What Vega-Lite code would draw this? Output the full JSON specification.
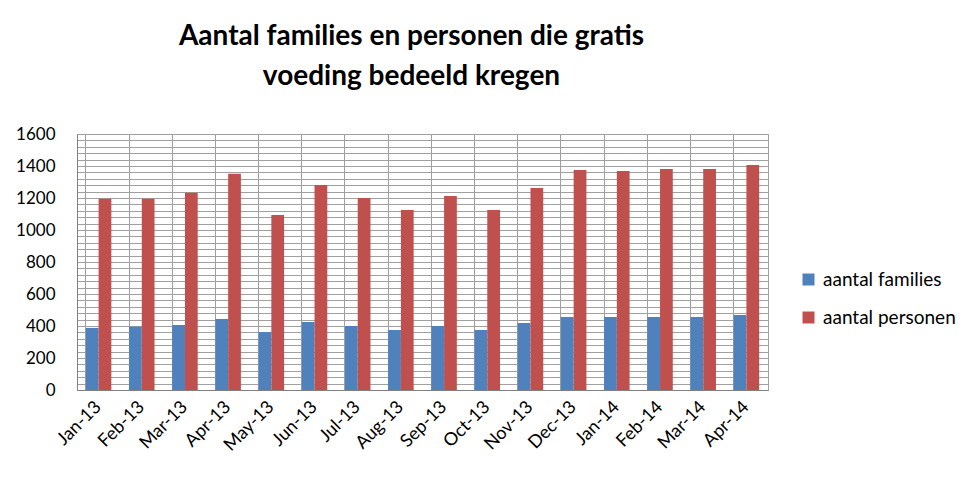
{
  "$schema": "https://vega.github.io/schema/vega-lite/v6.json",
  "width": 691,
  "height": 256,
  "autosize": {"type": "none"},
  "padding": {"left": 77, "top": 134, "right": 210, "bottom": 91},
  "background": "white",
  "title": {
    "text": ["Aantal families en personen die gratis", "voeding bedeeld kregen"],
    "font": "Lato",
    "fontSize": 28,
    "fontWeight": "bold",
    "color": "black",
    "lineHeight": 40,
    "anchor": "middle",
    "dx": -11,
    "offset": 34
  },
  "data": {
    "values": [
      {"maand": "Jan-13", "reeks": "aantal families", "waarde": 388},
      {"maand": "Jan-13", "reeks": "aantal personen", "waarde": 1195},
      {"maand": "Feb-13", "reeks": "aantal families", "waarde": 396},
      {"maand": "Feb-13", "reeks": "aantal personen", "waarde": 1195},
      {"maand": "Mar-13", "reeks": "aantal families", "waarde": 406},
      {"maand": "Mar-13", "reeks": "aantal personen", "waarde": 1233},
      {"maand": "Apr-13", "reeks": "aantal families", "waarde": 444},
      {"maand": "Apr-13", "reeks": "aantal personen", "waarde": 1352},
      {"maand": "May-13", "reeks": "aantal families", "waarde": 362},
      {"maand": "May-13", "reeks": "aantal personen", "waarde": 1094},
      {"maand": "Jun-13", "reeks": "aantal families", "waarde": 425},
      {"maand": "Jun-13", "reeks": "aantal personen", "waarde": 1281},
      {"maand": "Jul-13", "reeks": "aantal families", "waarde": 400},
      {"maand": "Jul-13", "reeks": "aantal personen", "waarde": 1200},
      {"maand": "Aug-13", "reeks": "aantal families", "waarde": 375},
      {"maand": "Aug-13", "reeks": "aantal personen", "waarde": 1125},
      {"maand": "Sep-13", "reeks": "aantal families", "waarde": 400},
      {"maand": "Sep-13", "reeks": "aantal personen", "waarde": 1212},
      {"maand": "Oct-13", "reeks": "aantal families", "waarde": 375},
      {"maand": "Oct-13", "reeks": "aantal personen", "waarde": 1125},
      {"maand": "Nov-13", "reeks": "aantal families", "waarde": 419},
      {"maand": "Nov-13", "reeks": "aantal personen", "waarde": 1262},
      {"maand": "Dec-13", "reeks": "aantal families", "waarde": 456},
      {"maand": "Dec-13", "reeks": "aantal personen", "waarde": 1375},
      {"maand": "Jan-14", "reeks": "aantal families", "waarde": 456},
      {"maand": "Jan-14", "reeks": "aantal personen", "waarde": 1369},
      {"maand": "Feb-14", "reeks": "aantal families", "waarde": 456},
      {"maand": "Feb-14", "reeks": "aantal personen", "waarde": 1381},
      {"maand": "Mar-14", "reeks": "aantal families", "waarde": 456},
      {"maand": "Mar-14", "reeks": "aantal personen", "waarde": 1381},
      {"maand": "Apr-14", "reeks": "aantal families", "waarde": 469},
      {"maand": "Apr-14", "reeks": "aantal personen", "waarde": 1406}
    ]
  },
  "mark": {"type": "bar"},
  "encoding": {
    "x": {
      "field": "maand",
      "type": "nominal",
      "sort": null,
      "scale": {"paddingInner": 0.41, "paddingOuter": 0.205},
      "axis": {
        "title": null,
        "bandPosition": 0,
        "grid": true,
        "gridColor": "#a0a0a0",
        "gridWidth": 1,
        "ticks": false,
        "domainColor": "#808080",
        "labelAngle": -45,
        "labelAlign": "right",
        "labelBaseline": "middle",
        "labelFont": "Lato",
        "labelFontSize": 18,
        "labelColor": "black",
        "labelPadding": 14
      }
    },
    "xOffset": {"field": "reeks", "type": "nominal"},
    "y": {
      "field": "waarde",
      "type": "quantitative",
      "scale": {"domain": [0, 1600], "nice": false},
      "axis": {
        "title": null,
        "values": [0, 40, 80, 120, 160, 200, 240, 280, 320, 360, 400, 440, 480, 520, 560, 600, 640, 680, 720, 760, 800, 840, 880, 920, 960, 1000, 1040, 1080, 1120, 1160, 1200, 1240, 1280, 1320, 1360, 1400, 1440, 1480, 1520, 1560, 1600],
        "labelExpr": "datum.value % 200 === 0 ? datum.label : ''",
        "format": "d",
        "grid": true,
        "gridColor": "#a0a0a0",
        "gridWidth": 1,
        "ticks": false,
        "domainColor": "#808080",
        "labelFont": "Lato",
        "labelFontSize": 17,
        "labelColor": "black",
        "labelPadding": 22,
        "labelOverlap": false
      }
    },
    "color": {
      "field": "reeks",
      "type": "nominal",
      "scale": {"domain": ["aantal families", "aantal personen"], "range": ["#4F81BD", "#C0504D"]},
      "legend": {
        "title": null,
        "orient": "none",
        "legendX": 722,
        "legendY": 136,
        "symbolType": "square",
        "symbolSize": 144,
        "symbolStrokeWidth": 0,
        "labelFont": "Lato",
        "labelFontSize": 19,
        "labelColor": "black",
        "labelOffset": 5,
        "rowPadding": 18
      }
    }
  },
  "config": {
    "view": {"stroke": "#a0a0a0", "strokeWidth": 1}
  }
}
